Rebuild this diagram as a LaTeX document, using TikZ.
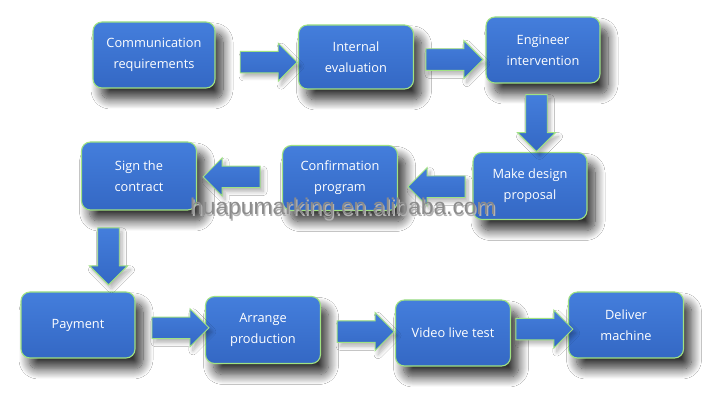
\documentclass[tikz,border=0pt]{standalone}
\usepackage{fontspec}
\setmainfont{Open Sans}
\newfontfamily\wmfont{Liberation Sans}
\usetikzlibrary{shapes.arrows,shadows.blur}
\definecolor{boxtop}{RGB}{68,126,220}
\definecolor{boxbot}{RGB}{52,104,196}
\definecolor{edgegreen}{RGB}{160,226,130}
\tikzset{
  stepbox/.style={draw=edgegreen, line width=1.1pt, rounded corners=9pt,
    top color=boxtop, bottom color=boxbot,
    minimum width=115pt, minimum height=66pt, inner sep=2pt,
    text=white, align=center, font=\fontsize{12.8}{21}\selectfont,
    blur shadow={shadow xshift=8pt, shadow yshift=-11pt, shadow blur steps=14, shadow blur radius=10pt, shadow opacity=80}},
  barrow/.style={single arrow, draw=edgegreen, line width=0.9pt,
    top color=boxtop, bottom color=boxbot, shading angle=0,
    minimum height=57pt, minimum width=38pt, inner xsep=0pt, inner ysep=10pt,
    single arrow head extend=8pt, single arrow head indent=0pt,
    blur shadow={shadow xshift=3pt, shadow yshift=-4pt, shadow blur steps=8, shadow blur radius=4pt, shadow opacity=30}}
}
\begin{document}
\begin{tikzpicture}[x=1pt,y=1pt]
\useasboundingbox (0,0) rectangle (714,419);
\fill[white] (0,0) rectangle (714,419);
\node[stepbox, minimum width=122pt] (n1) at (154,364) {Communication\\requirements};
\node[stepbox, minimum height=64pt] (n2) at (356,362) {Internal\\evaluation};
\node[stepbox, minimum width=114pt] (n3) at (543,369) {Engineer\\intervention};
\node[stepbox, minimum width=114pt, minimum height=67pt] (n4) at (530,233) {Make design\\proposal};
\node[stepbox, minimum height=65pt] (n5) at (340,241) {Confirmation\\program};
\node[stepbox, minimum height=68pt] (n6) at (139,243) {Sign the\\contract};
\node[stepbox, minimum width=114pt] (n7) at (78,94) {Payment};
\node[stepbox, minimum height=67pt] (n8) at (263,89) {Arrange\\production};
\node[stepbox] (n9) at (453,86) {Video live test};
\node[stepbox] (n10) at (626,94) {Deliver\\machine};
% arrows
\path (n1.east) -- node[barrow, pos=0.58, yshift=-6pt] {} (n2.west);
\path (n2.east) -- node[barrow, pos=0.49, yshift=-6pt] {} (n3.west);
\path (n3.south) -- node[barrow, rotate=-90] {} (n4.north);
\path (n4.west) -- node[barrow, pos=0.41, rotate=180, yshift=4pt] {} (n5.east);
\path (n5.west) -- node[barrow, pos=0.53, rotate=180] {} (n6.east);
\path (n6.south) -- node[barrow, rotate=-90] {} (n7.north);
\path (n7.east) -- node[barrow, pos=0.57] {} (n8.west);
\path (n8.east) -- node[barrow, pos=0.53] {} (n9.west);
\path (n9.east) -- node[barrow, pos=0.49] {} (n10.west);
% watermark
\node[text=black!30, font=\wmfont\fontsize{22.8}{22.8}\selectfont, anchor=base west, inner sep=0pt] at (191.2,202.8) {huapumarking.en.alibaba.com};
\node[text=gray!90, font=\wmfont\fontsize{22.8}{22.8}\selectfont, anchor=base west, inner sep=0pt] (wm) at (190,204) {huapumarking.en.alibaba.com};
\end{tikzpicture}
\end{document}
